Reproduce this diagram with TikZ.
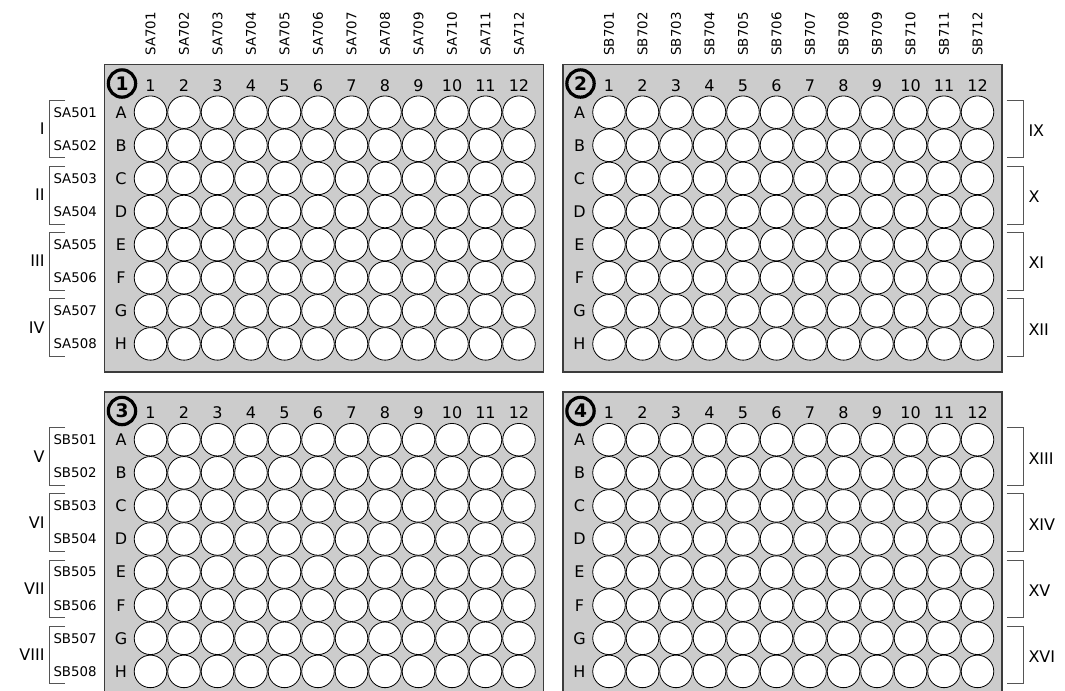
\documentclass[tikz,border=0pt]{standalone}
\usepackage{fontspec}
\setmainfont{DejaVu Sans}
\definecolor{plategray}{RGB}{204,204,204}
\definecolor{rimgray}{RGB}{60,60,60}
\definecolor{brackgray}{RGB}{85,85,85}
\tikzset{every picture/.style={line width=0.75pt}}

\begin{document}
\begin{tikzpicture}[x=0.75pt,y=0.75pt,yscale=-1,xscale=1,
  plate/.style={draw=rimgray,fill=plategray,line width=1pt},
  well/.style={circle,draw=black,fill=white,line width=0.6pt,inner sep=0pt,minimum size=24.4pt},
  platenum/.style={circle,draw=black,line width=2.4pt,inner sep=0pt,minimum size=20.5pt,font=\fontsize{14}{14}\selectfont\bfseries},
  gridlbl/.style={inner sep=0pt,font=\fontsize{12}{12}\selectfont},
  idxlbl/.style={inner sep=0pt,font=\fontsize{10}{10}\selectfont},
  grouplbl/.style={inner sep=0pt,font=\fontsize{12}{12}\selectfont},
  brack/.style={draw=brackgray,line width=0.75pt}]
%set diagram left start at 0, and has height of 690
\useasboundingbox (0,0) rectangle (1065,690);
\clip (0,0) rectangle (1065,690);

% Plates 1-4 with wells
\foreach \p/\dx/\dy in {1/0/0,2/458.5/0,3/0/327.5,4/458.5/327.5}{
  \begin{scope}[shift={(\dx,\dy)}]
    \draw[plate] (104.5,64.5) rectangle (543.5,372);
    \node[platenum] (n\p) at (122,83.5) {\p};
    \foreach \c in {1,...,12}
      \node[gridlbl] (c\p-\c) at ({150.5+33.5*(\c-1)},85.5) {\c};
    \foreach \r [count=\k from 0] in {A,B,C,D,E,F,G,H}{
      \node[gridlbl] (r\p-\r) at (121,{112.2+33.1*\k}) {\r};
      \foreach \c in {1,...,12}
        \node[well] (w\p-\r\c) at ({150.5+33.5*(\c-1)},{112.2+33.1*\k}) {};
    }
  \end{scope}
}

% Text Node: column indices above plates 1 and 2
\foreach \c in {1,...,12}{
  \pgfmathtruncatemacro{\idx}{700+\c}
  \node[idxlbl,rotate=90,anchor=west] (ta\c) at ({150.5+33.5*(\c-1)},56) {SA\idx};
  \node[idxlbl,rotate=90,anchor=west] (tb\c) at ({609+33.5*(\c-1)},56) {SB\idx};
}

% Text Node: row indices left of plates 1 and 3
\foreach \k in {0,...,7}{
  \pgfmathtruncatemacro{\idx}{501+\k}
  \node[idxlbl,anchor=west] (la\k) at (53,{112.2+33.1*\k}) {SA\idx};
  \node[idxlbl,anchor=west] (lb\k) at (53,{439.7+33.1*\k}) {SB\idx};
}

% Brackets and group numerals
\foreach \k/\ra/\rb/\rc/\rd in {0/I/V/IX/XIII,1/II/VI/X/XIV,2/III/VII/XI/XV,3/IV/VIII/XII/XVI}{
  \pgfmathsetmacro{\yt}{112.2+66.2*\k-12}
  \pgfmathsetmacro{\yb}{112.2+66.2*\k+33.1+12.5}
  \pgfmathsetmacro{\ym}{112.2+66.2*\k+16.5}
  \draw[brack] (65,\yt) -- (49,\yt) -- (49,\yb) -- (65,\yb);
  \draw[brack] (65,{\yt+327.5}) -- (49,{\yt+327.5}) -- (49,{\yb+327.5}) -- (65,{\yb+327.5});
  \draw[brack] (1006.7,\yt) -- (1023.3,\yt) -- (1023.3,\yb) -- (1006.7,\yb);
  \draw[brack] (1006.7,{\yt+327.5}) -- (1023.3,{\yt+327.5}) -- (1023.3,{\yb+327.5}) -- (1006.7,{\yb+327.5});
  \node[grouplbl,anchor=east] (ga\k) at (45,\ym) {\ra};
  \node[grouplbl,anchor=east] (gb\k) at (45,{\ym+327.5}) {\rb};
  \node[grouplbl,anchor=west] (gc\k) at (1028,{\ym+2}) {\rc};
  \node[grouplbl,anchor=west] (gd\k) at (1028,{\ym+329.5}) {\rd};
}

\end{tikzpicture}
\end{document}
